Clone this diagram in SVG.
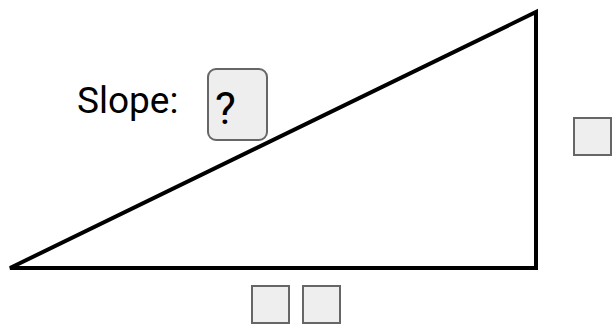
<svg xmlns="http://www.w3.org/2000/svg" width="613" height="325" viewBox="0 0 613 325">
<style>
.box{fill:#eeeeee;stroke:#666666;stroke-width:2}
.lbl{font-family:Roboto,"Liberation Sans",sans-serif;fill:#000}
</style>
<rect width="613" height="325" fill="#fff"/>
<g id="connectors">
<polygon points="10,268 536,268 536,12" fill="none" stroke="#000" stroke-width="4" stroke-linejoin="miter"/>
</g>
<g id="slope-label"><text class="lbl" x="77" y="113" font-size="37">Slope:</text></g>
<g id="slope-box"><rect class="box" x="208" y="69" width="59" height="71" rx="8"/><text class="lbl" x="215" y="124" font-size="44">?</text></g>
<g id="right-box"><rect class="box" x="574" y="118" width="37" height="37"/></g>
<g id="bottom-box-1"><rect class="box" x="252" y="286" width="37" height="37"/></g>
<g id="bottom-box-2"><rect class="box" x="303" y="286" width="37" height="37"/></g>
</svg>
